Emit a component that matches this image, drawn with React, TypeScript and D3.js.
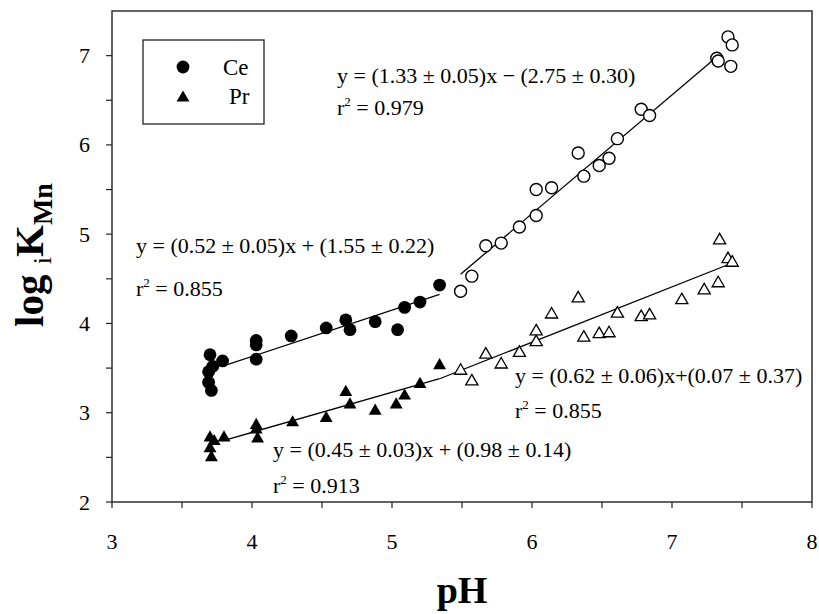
import React from "react";
import * as d3 from "d3";

// Ce, pH 3.7–5.3 (filled circles)
const ceLowPH = [3.70, 3.79, 3.72, 3.69, 3.69, 3.71, 4.03, 4.03, 4.03, 4.28, 4.53, 4.67, 4.70, 4.88, 5.04, 5.09, 5.20, 5.34];
const ceLowLogK = [3.65, 3.58, 3.52, 3.46, 3.34, 3.25, 3.81, 3.76, 3.60, 3.86, 3.95, 4.04, 3.93, 4.02, 3.93, 4.18, 4.24, 4.43];

// Ce, pH 5.5–7.4 (open circles)
const ceHighPH = [5.49, 5.57, 5.67, 5.78, 5.91, 6.03, 6.03, 6.14, 6.33, 6.37, 6.48, 6.55, 6.61, 6.78, 6.84, 7.32, 7.33, 7.40, 7.43, 7.42];
const ceHighLogK = [4.36, 4.53, 4.87, 4.90, 5.08, 5.21, 5.50, 5.52, 5.91, 5.65, 5.77, 5.85, 6.07, 6.40, 6.33, 6.97, 6.94, 7.21, 7.12, 6.88];

// Pr, pH 3.7–5.3 (filled triangles)
const prLowPH = [3.70, 3.73, 3.70, 3.71, 3.80, 4.03, 4.03, 4.04, 4.29, 4.53, 4.67, 4.70, 4.88, 5.03, 5.09, 5.20, 5.34];
const prLowLogK = [2.74, 2.70, 2.62, 2.52, 2.74, 2.88, 2.83, 2.73, 2.91, 2.96, 3.25, 3.11, 3.04, 3.11, 3.21, 3.34, 3.55];

// Pr, pH 5.5–7.4 (open triangles)
const prHighPH = [5.49, 5.57, 5.67, 5.78, 5.91, 6.03, 6.03, 6.14, 6.33, 6.37, 6.48, 6.55, 6.61, 6.78, 6.84, 7.07, 7.23, 7.33, 7.34, 7.40, 7.43];
const prHighLogK = [3.49, 3.37, 3.67, 3.56, 3.69, 3.81, 3.93, 4.12, 4.30, 3.86, 3.90, 3.91, 4.13, 4.09, 4.11, 4.28, 4.39, 4.47, 4.95, 4.74, 4.70];

// Linear fits: slope, intercept, pH range covered
const fitSlopes = [0.52, 1.33, 0.45, 0.62];
const fitIntercepts = [1.55, -2.75, 0.98, 0.07];
const fitFrom = [3.79, 5.49, 3.79, 5.34];
const fitTo = [5.34, 7.33, 5.34, 7.44];

const xTicks = [3, 4, 5, 6, 7, 8];
const yTicks = [2, 3, 4, 5, 6, 7];

const legendLabels = ["Ce", "Pr"];

const W = 819;
const H = 614;
const M = { left: 112, right: 812, top: 11, bottom: 502 };
const FONT = "'Liberation Serif', 'Times New Roman', serif";

const zip = (xs: number[], ys: number[]) => xs.map((x, i) => [x, ys[i]] as [number, number]);

export default function App() {
  const x = d3.scaleLinear().domain([3, 8]).range([M.left, M.right]);
  const y = d3.scaleLinear().domain([2, 7.5]).range([M.bottom, M.top]);

  const triSize = 72;
  const triOpenSize = 64;
  const triPath = d3.symbol(d3.symbolTriangle, triSize)()!;
  const triOpenPath = d3.symbol(d3.symbolTriangle, triOpenSize)()!;
  // shift so the triangle's bounding box is centred on the data point
  const triShift = (s: number) => Math.sqrt(s / (Math.sqrt(3) * 3)) / 2;

  const line = d3.line<[number, number]>().x((d) => x(d[0])).y((d) => y(d[1]));

  const xMinor = d3.range(3, 8.001, 0.5);
  const yMinor = d3.range(2, 7.001, 0.5);

  const textStyle = { fontFamily: FONT, fontSize: 22, fill: "#000" } as const;

  const eq = (lines: [string, string], xPos: number, yPos: number, gap: number) => (
    <g>
      <text x={xPos} y={yPos} style={textStyle}>{lines[0]}</text>
      <text x={xPos} y={yPos + gap} style={textStyle}>
        r<tspan dy={-9} fontSize={13}>2</tspan>
        <tspan dy={9}>{" = " + lines[1]}</tspan>
      </text>
    </g>
  );

  return (
    <svg width={W} height={H} style={{ position: "absolute", left: 0, top: 0, background: "#fff" }}>
      <rect x={0} y={0} width={W} height={H} fill="#fff" />

      {/* frame */}
      <rect x={M.left} y={M.top} width={M.right - M.left} height={M.bottom - M.top}
        fill="none" stroke="#222" strokeWidth={1.4} />

      {/* x ticks */}
      {xMinor.map((v) => (
        <line key={"xm" + v} x1={x(v)} x2={x(v)} y1={M.bottom} y2={M.bottom + 6} stroke="#222" strokeWidth={1.2} />
      ))}
      {xTicks.map((v) => (
        <text key={"xt" + v} x={x(v)} y={549} textAnchor="middle" style={textStyle}>{v}</text>
      ))}

      {/* y ticks */}
      {yMinor.map((v) => (
        <line key={"ym" + v} x1={M.left - 6} x2={M.left} y1={y(v)} y2={y(v)} stroke="#222" strokeWidth={1.2} />
      ))}
      {yTicks.map((v) => (
        <text key={"yt" + v} x={90} y={y(v) + 7.5} textAnchor="end" style={textStyle}>{v}</text>
      ))}

      {/* axis titles */}
      <text x={x(5.5)} y={603} textAnchor="middle"
        style={{ fontFamily: FONT, fontSize: 38, fontWeight: "bold" }}>pH</text>
      <text transform={`translate(43, 255) rotate(-90)`} textAnchor="middle"
        style={{ fontFamily: FONT, fontSize: 41, fontWeight: "bold" }}>
        log <tspan dy={8} fontSize={26} fontWeight="normal">i</tspan>
        <tspan dy={-8}>K</tspan>
        <tspan dy={9} fontSize={28}>Mn</tspan>
      </text>

      {/* fit lines */}
      {fitSlopes.map((s, i) => (
        <path key={"fit" + i}
          d={line([[fitFrom[i], s * fitFrom[i] + fitIntercepts[i]], [fitTo[i], s * fitTo[i] + fitIntercepts[i]]])!}
          stroke="#000" strokeWidth={1.3} fill="none" />
      ))}

      {/* Ce markers */}
      {zip(ceLowPH, ceLowLogK).map(([a, b], i) => (
        <circle key={"cl" + i} cx={x(a)} cy={y(b)} r={6.4} fill="#000" />
      ))}
      {zip(ceHighPH, ceHighLogK).map(([a, b], i) => (
        <circle key={"ch" + i} cx={x(a)} cy={y(b)} r={6} fill="#fff" stroke="#000" strokeWidth={1.4} />
      ))}

      {/* Pr markers */}
      {zip(prLowPH, prLowLogK).map(([a, b], i) => (
        <path key={"pl" + i} d={triPath} transform={`translate(${x(a)},${y(b) + triShift(triSize)})`} fill="#000" />
      ))}
      {zip(prHighPH, prHighLogK).map(([a, b], i) => (
        <path key={"ph" + i} d={triOpenPath} transform={`translate(${x(a)},${y(b) + triShift(triOpenSize)})`}
          fill="#fff" stroke="#000" strokeWidth={1.3} />
      ))}

      {/* regression labels */}
      {eq(["y = (1.33 ± 0.05)x − (2.75 ± 0.30)", "0.979"], 337, 83, 32)}
      {eq(["y = (0.52 ± 0.05)x + (1.55 ± 0.22)", "0.855"], 136, 253, 43)}
      {eq(["y = (0.62 ± 0.06)x+(0.07 ± 0.37)", "0.855"], 515, 383, 35)}
      {eq(["y = (0.45 ± 0.03)x + (0.98 ± 0.14)", "0.913"], 273, 457, 36)}

      {/* legend */}
      <rect x={143} y={40} width={121} height={84} fill="#fff" stroke="#222" strokeWidth={1.3} />
      <circle cx={183} cy={67} r={6.4} fill="#000" />
      <path d={triPath} transform={`translate(183,${96 + triShift(triSize)})`} fill="#000" />
      <text x={223} y={75} style={{ ...textStyle, fontSize: 23 }}>{legendLabels[0]}</text>
      <text x={229} y={104} style={{ ...textStyle, fontSize: 23 }}>{legendLabels[1]}</text>
    </svg>
  );
}
